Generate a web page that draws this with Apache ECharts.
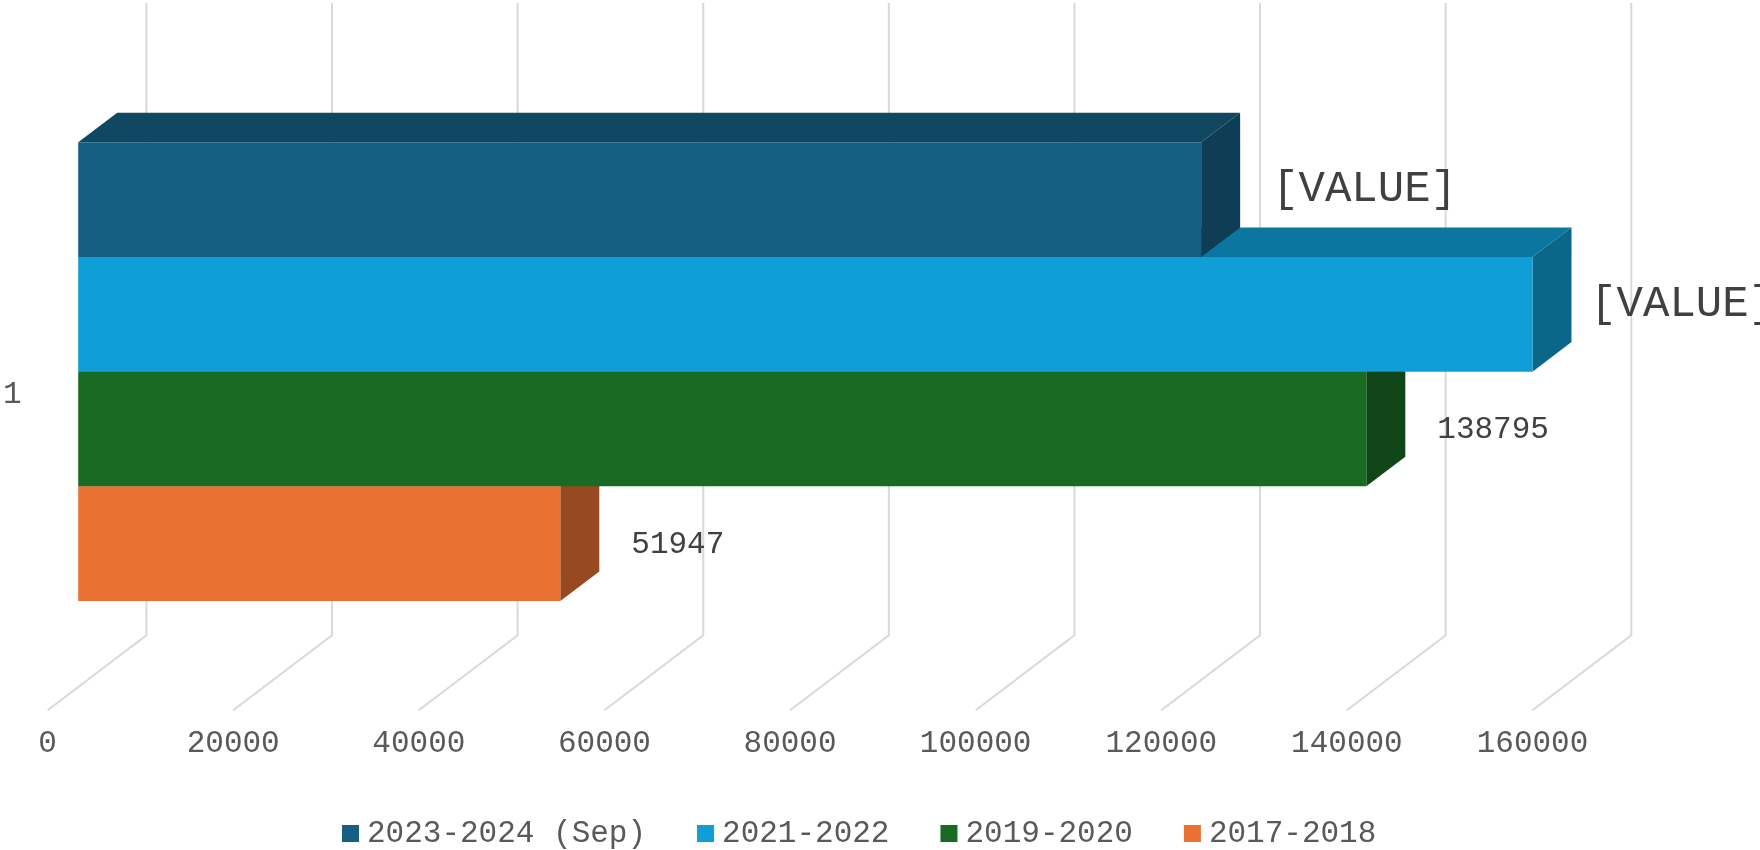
<!DOCTYPE html>
<html>
  <head>
    <meta charset="utf-8" />
    <title>3D clustered bar</title>
    <script src="https://cdn.jsdelivr.net/npm/echarts@6/dist/echarts.min.js"></script>
  </head>
  <body style="margin: 0">
    <div id="main" style="width: 1760px; height: 850px"></div>
    <script type="text/javascript">
      var categories = ["1"];
      var seriesNames = ["2023-2024 (Sep)", "2021-2022", "2019-2020", "2017-2018"];
      var seriesValues = [121000, 156700, 138795, 51947];
      var labelTexts = ["[VALUE]", "[VALUE]", "138795", "51947"];
      var xTicks = [0, 20000, 40000, 60000, 80000, 100000, 120000, 140000, 160000];
      var colors = ["#156082", "#0F9ED5", "#196B24", "#E97132"];

      var myChart = echarts.init(document.getElementById("main"));

      // oblique projection: the grid is the front edge of the floor,
      // floor runs back by FLOOR, bars sit between FRONT and BACK of it
      var FLOOR = [98.8, -75];
      var FRONT = [30.6, -23.2];
      var BACK = [69.6, -52.8];

      var measureCtx = document.createElement("canvas").getContext("2d");
      function textWidth(text, size) {
        measureCtx.font = size + "px 'Liberation Mono'";
        return measureCtx.measureText(text).width;
      }

      function shade(hex, k) {
        var n = parseInt(hex.slice(1), 16);
        var r = Math.round(((n >> 16) & 255) * k);
        var g = Math.round(((n >> 8) & 255) * k);
        var b = Math.round((n & 255) * k);
        return "rgb(" + r + "," + g + "," + b + ")";
      }

      function barRenderer(idx) {
        return function (params, api) {
          var cs = params.coordSys;
          var v = api.value(0);
          var x0 = api.coord([0, 0])[0];
          var xv = api.coord([v, 0])[0];
          var h = cs.height / seriesNames.length;
          var top = cs.y + idx * h;
          var bot = top + h;
          var c = colors[idx];

          var fl = x0 + FRONT[0], fr = xv + FRONT[0];
          var ft = top + FRONT[1], fb = bot + FRONT[1];
          var bl = x0 + BACK[0], br = xv + BACK[0];
          var bt = top + BACK[1], bb = bot + BACK[1];

          var placeholder = labelTexts[idx].charAt(0) === "[";
          var size = placeholder ? 44 : 31;
          // like Excel, pull the label back towards the chart area
          var lx = Math.min(
            fr + 71,
            myChart.getWidth() - textWidth(labelTexts[idx], size) + 15
          );
          return {
            type: "group",
            children: [
              {
                type: "polygon",
                shape: { points: [[fl, ft], [bl, bt], [br, bt], [fr, ft]] },
                style: { fill: shade(c, 0.75) },
              },
              {
                type: "polygon",
                shape: { points: [[fr, ft], [br, bt], [br, bb], [fr, fb]] },
                style: { fill: shade(c, 0.65) },
              },
              {
                type: "rect",
                shape: { x: fl, y: ft, width: fr - fl, height: fb - ft },
                style: { fill: c },
              },
              {
                type: "text",
                style: {
                  text: labelTexts[idx],
                  x: lx,
                  y: (ft + fb) / 2 + (placeholder ? -10 : 1),
                  fill: "#404040",
                  fontFamily: "Liberation Mono",
                  fontSize: size,
                  align: "left",
                  verticalAlign: "middle",
                },
              },
            ],
          };
        };
      }

      function gridRenderer(params, api) {
        var cs = params.coordSys;
        var x = api.coord([api.value(0), 0])[0];
        var floorY = cs.y + cs.height + 86;
        return {
          type: "polyline",
          shape: {
            points: [
              [x, floorY],
              [x + FLOOR[0], floorY + FLOOR[1]],
              [x + FLOOR[0], 3],
            ],
          },
          style: { stroke: "#d9d9d9", lineWidth: 2, fill: null },
        };
      }

      var series = [
        {
          name: "gridlines",
          type: "custom",
          renderItem: gridRenderer,
          data: xTicks.map(function (t) {
            return [t, 0];
          }),
          silent: true,
          z: 1,
        },
      ];
      seriesNames.forEach(function (name, i) {
        series.push({
          name: name,
          type: "custom",
          renderItem: barRenderer(i),
          itemStyle: { color: colors[i] },
          data: [[seriesValues[i], 0]],
          z: 10 - i,
        });
      });

      var option = {
        backgroundColor: "#ffffff",
        animation: false,
        grid: {
          left: 47.6,
          right: 227.5,
          top: 165.5,
          bottom: 225.8,
          containLabel: false,
          outerBoundsMode: "none",
        },
        legend: {
          data: seriesNames,
          left: 342,
          top: 818,
          padding: 0,
          icon: "rect",
          itemWidth: 17,
          itemHeight: 17,
          itemGap: 51,
          textStyle: {
            fontFamily: "Liberation Mono",
            fontSize: 31,
            lineHeight: 31,
            color: "#595959",
            padding: [0, 0, 0, 3],
          },
        },
        xAxis: {
          type: "value",
          min: 0,
          max: 160000,
          interval: 20000,
          splitLine: { show: false },
          axisLine: { show: false },
          axisTick: { show: false },
          axisLabel: {
            margin: 104,
            fontFamily: "Liberation Mono",
            fontSize: 31,
            lineHeight: 31,
            color: "#595959",
            formatter: function (v) {
              return String(v);
            },
          },
        },
        yAxis: {
          type: "category",
          data: categories,
          axisLine: { show: false },
          axisTick: { show: false },
          axisLabel: {
            margin: 26,
            fontFamily: "Liberation Mono",
            fontSize: 31,
            color: "#595959",
          },
        },
        series: series,
      };

      myChart.setOption(option);
    </script>
  </body>
</html>
